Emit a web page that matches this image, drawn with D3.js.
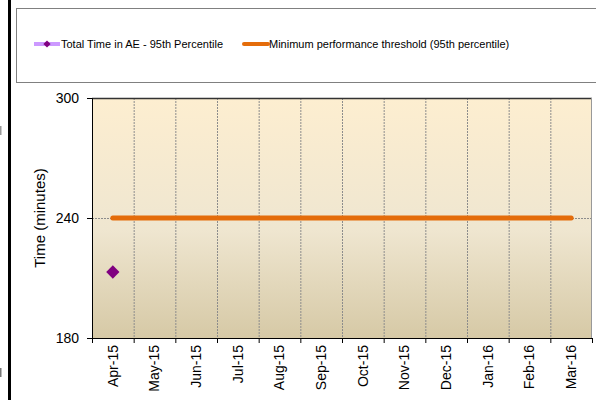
<!DOCTYPE html>
<html>
<head>
<meta charset="utf-8">
<script src="https://cdn.jsdelivr.net/npm/d3@7"></script>
<style>
  body { margin: 0; background: #fff; }
  svg { display: block; font-family: "Liberation Sans", Arial, sans-serif; }
</style>
</head>
<body>
<svg id="chart" width="596" height="400"></svg>
<script>
// chart values
var months = ["Apr-15", "May-15", "Jun-15", "Jul-15", "Aug-15", "Sep-15",
              "Oct-15", "Nov-15", "Dec-15", "Jan-16", "Feb-16", "Mar-16"];
var totalTime = [213, null, null, null, null, null, null, null, null, null, null, null];
var threshold = [240, 240, 240, 240, 240, 240, 240, 240, 240, 240, 240, 240];
var yTicks = [180, 240, 300];
var seriesNames = ["Total Time in AE - 95th Percentile", "Minimum performance threshold (95th percentile)"];

var svg = d3.select("#chart");
var margin = {left: 92, top: 98, right: 4, bottom: 62};
var width = 596 - margin.left - margin.right,
    height = 400 - margin.top - margin.bottom;

// gradient background of plot area
var defs = svg.append("defs");
var grad = defs.append("linearGradient")
    .attr("id", "bg").attr("x1", 0).attr("y1", 0).attr("x2", 0).attr("y2", 1);
grad.append("stop").attr("offset", "0%").attr("stop-color", "#fdeed0");
grad.append("stop").attr("offset", "55%").attr("stop-color", "#efe6d0");
grad.append("stop").attr("offset", "100%").attr("stop-color", "#d6c9a6");

// left black bar + stray marks
svg.append("rect").attr("x", 8).attr("y", 0).attr("width", 3).attr("height", 400).attr("fill", "#000");
svg.append("rect").attr("x", 0).attr("y", 126).attr("width", 1.5).attr("height", 9).attr("fill", "#999");
svg.append("rect").attr("x", 0).attr("y", 368).attr("width", 1.5).attr("height", 9).attr("fill", "#777");

// legend box
svg.append("rect")
    .attr("x", 16.5).attr("y", 8.5).attr("width", 600).attr("height", 74)
    .attr("fill", "#fff").attr("stroke", "#808080").attr("stroke-width", 1);

var leg = svg.append("g");
leg.append("line").attr("x1", 34).attr("x2", 60).attr("y1", 44).attr("y2", 44)
    .attr("stroke", "#cc99ff").attr("stroke-width", 4);
leg.append("path").attr("d", d3.symbol(d3.symbolSquare, 26)())
    .attr("transform", "translate(47,44) rotate(45)").attr("fill", "#800080");
leg.append("text").attr("x", 61).attr("y", 48).attr("font-size", 11).attr("fill", "#000")
    .text(seriesNames[0]);
leg.append("line").attr("x1", 244).attr("x2", 268).attr("y1", 44).attr("y2", 44)
    .attr("stroke", "#e46c0a").attr("stroke-width", 4).attr("stroke-linecap", "round");
leg.append("text").attr("x", 269).attr("y", 48).attr("font-size", 11).attr("fill", "#000")
    .text(seriesNames[1]);

var g = svg.append("g").attr("transform", "translate(" + margin.left + "," + margin.top + ")");

var x = d3.scaleBand().domain(months).range([0, width]);
var y = d3.scaleLinear().domain([180, 300]).range([height, 0]);

g.append("rect").attr("width", width).attr("height", height).attr("fill", "url(#bg)");

// vertical gridlines at category boundaries
g.selectAll(".vgrid")
    .data(months.slice(1))
    .enter().append("line")
    .attr("class", "vgrid")
    .attr("x1", d => x(d) + 0.5).attr("x2", d => x(d) + 0.5)
    .attr("y1", 0).attr("y2", height)
    .attr("stroke", "#8c8c8c").attr("stroke-width", 1).attr("stroke-dasharray", "2,1");

// horizontal gridline
g.selectAll(".hgrid")
    .data(yTicks.slice(1, -1))
    .enter().append("line")
    .attr("class", "hgrid")
    .attr("x1", 0).attr("x2", width)
    .attr("y1", d => y(d) + 0.5).attr("y2", d => y(d) + 0.5)
    .attr("stroke", "#8c8c8c").attr("stroke-width", 1).attr("stroke-dasharray", "2,1");

// plot border (top + right)
g.append("line").attr("x1", 0).attr("x2", width).attr("y1", 0.5).attr("y2", 0.5)
    .attr("stroke", "#333").attr("stroke-width", 1.5);
g.append("line").attr("x1", width - 0.5).attr("x2", width - 0.5).attr("y1", 0).attr("y2", height)
    .attr("stroke", "#999");

var cx = d => x(d) + x.bandwidth() / 2;

// threshold line
var line = d3.line()
    .defined(d => d[1] != null)
    .x(d => cx(d[0]))
    .y(d => y(d[1]));

g.append("path")
    .datum(months.map((m, i) => [m, threshold[i]]))
    .attr("d", line)
    .attr("fill", "none").attr("stroke", "#e46c0a").attr("stroke-width", 5)
    .attr("stroke-linecap", "round");

// total time series
var pts = months.map((m, i) => [m, totalTime[i]]).filter(d => d[1] != null);
g.append("path")
    .datum(months.map((m, i) => [m, totalTime[i]]))
    .attr("d", line)
    .attr("fill", "none").attr("stroke", "#cc99ff").attr("stroke-width", 4);
g.selectAll(".pt")
    .data(pts)
    .enter().append("path")
    .attr("class", "pt")
    .attr("d", d3.symbol(d3.symbolSquare, 88)())
    .attr("transform", d => "translate(" + cx(d[0]) + "," + y(d[1]) + ") rotate(45)")
    .attr("fill", "#800080");

// axes
var yAxis = g.append("g")
    .call(d3.axisLeft(y).tickValues(yTicks).tickSize(5).tickPadding(8));
yAxis.selectAll("text").attr("font-size", 14).attr("fill", "#000").attr("font-family", "Liberation Sans, Arial, sans-serif");
yAxis.selectAll("line").attr("stroke", "#000");
yAxis.select(".domain").attr("stroke", "#000");

var xAxis = g.append("g")
    .attr("transform", "translate(0," + height + ")")
    .call(d3.axisBottom(x).tickSize(0).tickFormat(d => d));
xAxis.select(".domain").attr("stroke", "#000");
xAxis.selectAll("text")
    .attr("font-size", 14).attr("fill", "#000")
    .attr("font-family", "Liberation Sans, Arial, sans-serif")
    .attr("transform", "rotate(-90)")
    .attr("text-anchor", "end")
    .attr("x", -7).attr("y", 0).attr("dy", "0.35em");

// boundary tick marks
xAxis.selectAll(".btick")
    .data(months.concat(["end"]))
    .enter().append("line")
    .attr("class", "btick")
    .attr("x1", (d, i) => i * x.step() + 0.5).attr("x2", (d, i) => i * x.step() + 0.5)
    .attr("y1", 0).attr("y2", 5)
    .attr("stroke", "#000");

// y title
svg.append("text")
    .attr("transform", "translate(45," + (margin.top + height / 2) + ") rotate(-90)")
    .attr("text-anchor", "middle")
    .attr("font-size", 15).attr("fill", "#000")
    .text("Time (minutes)");
</script>
</body>
</html>
